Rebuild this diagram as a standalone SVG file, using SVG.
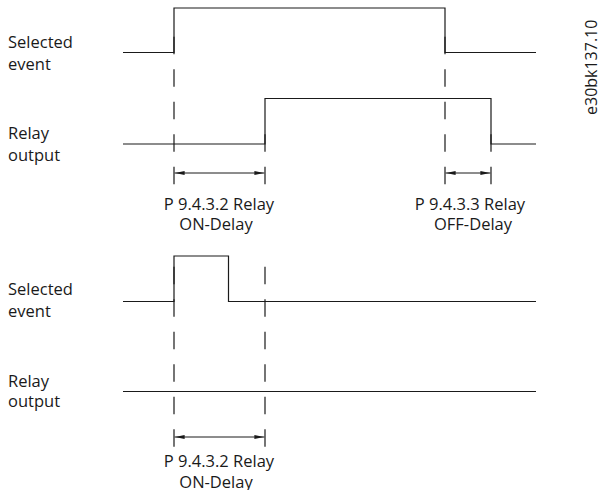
<svg xmlns="http://www.w3.org/2000/svg" width="603" height="490" viewBox="0 0 603 490">
<style>
  text { font-family: "Open Sans", "Noto Sans", sans-serif; font-size: 16.5px; fill: #1a1a1a; }
  .wave { fill: none; stroke: #1a1a1a; stroke-width: 1.2; }
  .dash { fill: none; stroke: #1a1a1a; stroke-width: 1.2; stroke-dasharray: 17.4 15.1; }
  .dim { fill: none; stroke: #1a1a1a; stroke-width: 1; marker-start: url(#ah); marker-end: url(#ah); }
  .mid { text-anchor: middle; }
</style>
<defs>
  <marker id="ah" viewBox="0 0 10 6" refX="10" refY="3" markerWidth="10" markerHeight="6" markerUnits="userSpaceOnUse" orient="auto-start-reverse">
    <path d="M0,0.9 L10,3 L0,5.1 Z" fill="#1a1a1a"/>
  </marker>
</defs>
<rect width="603" height="490" fill="#fff"/>

<g id="labels">
  <text x="8" y="48.3">Selected</text>
  <text x="8" y="70">event</text>
  <text x="8" y="139">Relay</text>
  <text x="8" y="160.5">output</text>
  <text x="8" y="295">Selected</text>
  <text x="8" y="316.7">event</text>
  <text x="8" y="386.7">Relay</text>
  <text x="8" y="407">output</text>
</g>

<g id="top-selected-event">
  <path class="wave" d="M123,52.5 H174 V8 H445 V52.5 H536"/>
</g>
<g id="top-relay-output">
  <path class="wave" d="M123,144 H265 V98.5 H491 V144 H536"/>
</g>
<g id="bottom-selected-event">
  <path class="wave" d="M123,301.5 H174 V256 H228.5 V301.5 H536"/>
</g>
<g id="bottom-relay-output">
  <path class="wave" d="M123,391.5 H536"/>
</g>

<g id="connectors">
  <line class="dash" x1="174" y1="36.8" x2="174" y2="184.2"/>
  <line class="dash" x1="265" y1="134.3" x2="265" y2="184.2"/>
  <line class="dash" x1="445" y1="36.8" x2="445" y2="184.2"/>
  <line class="dash" x1="491" y1="134.3" x2="491" y2="184.2"/>
  <line class="dim" x1="174.6" y1="173" x2="264.4" y2="173"/>
  <line class="dim" x1="445.6" y1="173" x2="490.4" y2="173"/>
  <line class="dash" x1="174" y1="266.8" x2="174" y2="446.7"/>
  <line class="dash" x1="265" y1="266.8" x2="265" y2="446.7"/>
  <line class="dim" x1="174.6" y1="437" x2="264.4" y2="437"/>
</g>

<g id="delay-labels">
  <text class="mid" x="219" y="210">P 9.4.3.2 Relay</text>
  <text class="mid" x="216" y="230">ON-Delay</text>
  <text class="mid" x="470" y="210">P 9.4.3.3 Relay</text>
  <text class="mid" x="473" y="230">OFF-Delay</text>
  <text class="mid" x="219" y="467">P 9.4.3.2 Relay</text>
  <text class="mid" x="216" y="488.3">ON-Delay</text>
</g>

<g id="doc-id">
  <text transform="translate(596.5,115) rotate(-90)" style="font-size:16px">e30bk137.10</text>
</g>
</svg>
